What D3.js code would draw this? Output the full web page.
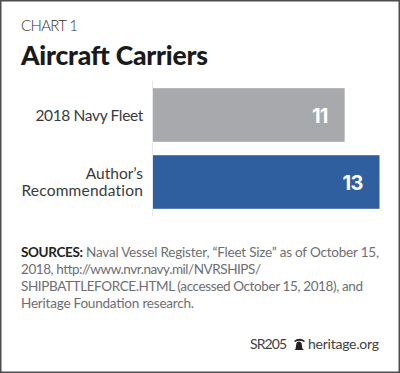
<!DOCTYPE html>
<html>
<head>
<meta charset="utf-8">
<script src="https://cdn.jsdelivr.net/npm/d3@7"></script>
<style>
    html, body { margin: 0; padding: 0; background: #fff; }
    svg { display: block; }
    text { font-family: Lato, "Open Sans", sans-serif; }
    text.value { font-family: Inter, Lato, sans-serif; }
</style>
</head>
<body>
<div id="chart"></div>
<script>
const categories = ["2018 Navy Fleet", "Author’s Recommendation"];
const categoryLines = [["2018 Navy Fleet"], ["Author’s", "Recommendation"]];
const values = [11, 13];
const barColors = ["#a7a9ac", "#2f5f9e"];
const sourceLines = [
    "Naval Vessel Register, “Fleet Size” as of October 15,",
    "2018, http://www.nvr.navy.mil/NVRSHIPS/",
    "SHIPBATTLEFORCE.HTML (accessed October 15, 2018), and",
    "Heritage Foundation research."
];
const sourceWidths = [293, 240, 342, 173];
const labelTracking = [[-0.35], [0, 0.2]];

const width = 400, height = 373;

let svg = d3.select("#chart")
    .append("svg")
    .attr("width", width)
    .attr("height", height)
;

svg.append("rect")
    .attr("x", 0.75)
    .attr("y", 0.75)
    .attr("width", width - 1.5)
    .attr("height", height - 1.5)
    .attr("fill", "#fff")
    .attr("stroke", "#4d4d4f")
    .attr("stroke-width", 1.5)
;

svg.append("text")
    .attr("x", 21)
    .attr("y", 31)
    .attr("font-size", 15)
    .attr("font-weight", 300)
    .attr("fill", "#333")
    .attr("textLength", 57)
    .text("CHART 1")
;

svg.append("text")
    .attr("x", 21)
    .attr("y", 65)
    .attr("font-size", 26.5)
    .attr("font-weight", 900)
    .attr("fill", "#1a1a1a")
    .attr("textLength", 187)
    .text("Aircraft Carriers")
;

let x = d3.scaleLinear()
    .domain([0, 13])
    .range([153, 379.5])
;

let y = d3.scaleBand()
    .domain(categories)
    .range([81.5, 215.5])
    .paddingInner(0.2)
    .paddingOuter(0.1)
;

// thin baseline behind the bars
svg.append("line")
    .attr("x1", 152.5)
    .attr("x2", 152.5)
    .attr("y1", 81)
    .attr("y2", 216)
    .attr("stroke", "#e6e7e8")
    .attr("stroke-width", 1)
;

svg.selectAll("rect.bar")
    .data(values)
    .enter()
    .append("rect")
    .attr("class", "bar")
    .attr("x", x(0))
    .attr("y", (d, i) => y(categories[i]))
    .attr("width", d => x(d) - x(0))
    .attr("height", y.bandwidth())
    .attr("fill", (d, i) => barColors[i])
;

svg.selectAll("text.value")
    .data(values)
    .enter()
    .append("text")
    .attr("class", "value")
    .attr("x", d => x(d) - 17)
    .attr("y", (d, i) => y(categories[i]) + y.bandwidth() / 2 + 8)
    .attr("text-anchor", "end")
    .attr("font-size", 20)
    .attr("font-weight", 700)
    .attr("fill", "#fff")
    .attr("letter-spacing", -0.8)
    .text(d => d)
;

categoryLines.forEach((lines, i) => {
    let mid = y(categories[i]) + y.bandwidth() / 2;
    let label = svg.append("text")
        .attr("class", "category")
        .attr("text-anchor", "end")
        .attr("font-size", 15.5)
        .attr("fill", "#3a3a3c")
    ;
    lines.forEach((line, j) => {
        label.append("tspan")
            .attr("x", 143)
            .attr("y", mid + 5.5 + (j - (lines.length - 1) / 2) * 17)
            .attr("letter-spacing", labelTracking[i][j])
            .text(line)
        ;
    });
});

let sources = svg.append("g")
    .attr("font-size", 13.5)
    .attr("fill", "#6d6e71")
;

sources.selectAll("text")
    .data(sourceLines)
    .enter()
    .append("text")
    .attr("x", (d, i) => i == 0 ? 86 : 21)
    .attr("y", (d, i) => 257 + i * 17)
    .attr("textLength", (d, i) => sourceWidths[i])
    .text(d => d)
;

sources.append("text")
    .attr("x", 21)
    .attr("y", 257)
    .attr("font-weight", 700)
    .attr("fill", "#222")
    .attr("textLength", 62)
    .text("SOURCES:")
;

let foot = svg.append("g")
    .attr("font-size", 14)
    .attr("fill", "#414042")
;

foot.append("text")
    .attr("x", 250)
    .attr("y", 349)
    .attr("textLength", 37)
    .text("SR205")
;

foot.append("text")
    .attr("x", 308)
    .attr("y", 349)
    .attr("textLength", 71)
    .text("heritage.org")
;

// bell logo
foot.append("path")
    .attr("d", "M295.5 350 h8 v-1 h-1 l-1 -6 q-.5 -1.5 -2.5 -1.5 t-2.5 1.5 l-1 6 h-1 z M294 341 q5.500 -4.500 11 0 l-1 1 q-4.500 -2.500 -9 0 z")
    .attr("fill", "#222")
;
</script>
</body>
</html>
